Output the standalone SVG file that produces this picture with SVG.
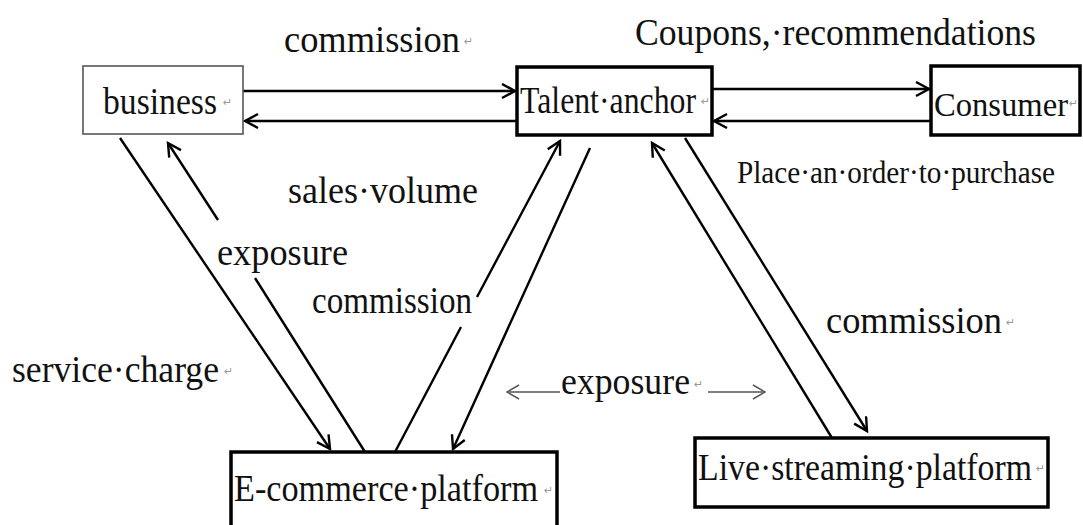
<svg xmlns="http://www.w3.org/2000/svg" width="1083" height="525" viewBox="0 0 1083 525">
  <defs>
    <style>
      .t { font-family: "Times New Roman", "Liberation Serif", Tinos, "DejaVu Serif", serif; font-size: 37px; fill: #111; }
      .s { font-size: 31px; }
      .pm { font-family: "DejaVu Sans", sans-serif; font-size: 11px; fill: #999; }
      .box { fill: #fff; stroke: #000; stroke-width: 3.5; }
      .thin { fill: #fff; stroke: #555; stroke-width: 1.6; }
      .edge { fill: none; stroke: #000; stroke-width: 2.4; marker-end: url(#arrow); }
      .grey { fill: none; stroke: #555; stroke-width: 1.5; marker-end: url(#arrowGrey); }
    </style>
    <marker id="arrow" markerUnits="userSpaceOnUse" markerWidth="20" markerHeight="20" refX="14" refY="8" orient="auto">
      <path d="M1,1 L14,8 L1,15" fill="none" stroke="#000" stroke-width="2.4"/>
    </marker>
    <marker id="arrowGrey" markerUnits="userSpaceOnUse" markerWidth="20" markerHeight="20" refX="13" refY="8" orient="auto">
      <path d="M1,1 L13,8 L1,15" fill="none" stroke="#555" stroke-width="1.5"/>
    </marker>
  </defs>

  <rect width="1083" height="525" fill="#fff"/>

  <!-- connectors -->
  <g id="connectors">
    <path class="edge" d="M243,91 L515,91"/>
    <path class="edge" d="M517,121 L245,121"/>
    <path class="edge" d="M712,89 L929,89"/>
    <path class="edge" d="M931,121 L714,121"/>
    <path class="edge" d="M120,138 L330,449"/>
    <path class="edge" d="M365,452 L255,278 M218,220 L168,143"/>
    <path class="edge" d="M395,452 L461,327 M477,297 L560,141"/>
    <path class="edge" d="M590,148 L453,449"/>
    <path class="edge" d="M832,438 L652,143"/>
    <path class="edge" d="M685,138 L867,431"/>
    <path class="grey" d="M560,392 L507,392"/>
    <path class="grey" d="M708,392 L765,392"/>
  </g>

  <!-- nodes -->
  <g id="node-business">
    <rect class="thin" x="83" y="66" width="160" height="68"/>
    <text class="t" x="103" y="114" textLength="114" lengthAdjust="spacingAndGlyphs">business</text>
    <text class="pm" x="223" y="106">↵</text>
  </g>
  <g id="node-talent">
    <rect class="box" x="517" y="67" width="195" height="68"/>
    <text class="t" x="520" y="113" textLength="176" lengthAdjust="spacingAndGlyphs">Talent·anchor</text>
    <text class="pm" x="701" y="105">↵</text>
  </g>
  <g id="node-consumer">
    <rect class="box" x="931" y="66" width="149" height="69"/>
    <text class="t" x="934" y="116" textLength="134" lengthAdjust="spacingAndGlyphs" style="font-size:34px">Consumer</text>
    <text class="pm" x="1069" y="107">↵</text>
  </g>
  <g id="node-ecommerce">
    <rect class="box" x="231" y="452" width="326" height="85"/>
    <text class="t" x="234" y="501" textLength="304" lengthAdjust="spacingAndGlyphs">E-commerce·platform</text>
    <text class="pm" x="544" y="494">↵</text>
  </g>
  <g id="node-live">
    <rect class="box" x="695" y="438" width="353" height="69"/>
    <text class="t" x="698" y="480" textLength="334" lengthAdjust="spacingAndGlyphs">Live·streaming·platform</text>
    <text class="pm" x="1036" y="472">↵</text>
  </g>

  <!-- connector labels -->
  <g id="labels">
    <text class="t" x="284" y="52" textLength="176" lengthAdjust="spacingAndGlyphs">commission</text>
    <text class="pm" x="464" y="45">↵</text>
    <text class="t" x="635" y="45" textLength="401" lengthAdjust="spacingAndGlyphs">Coupons,·recommendations</text>
    <text class="t" x="288" y="203" textLength="190" lengthAdjust="spacingAndGlyphs">sales·volume</text>
    <text class="t s" x="737" y="183" textLength="318" lengthAdjust="spacingAndGlyphs">Place·an·order·to·purchase</text>
    <text class="t" x="217" y="265" textLength="131" lengthAdjust="spacingAndGlyphs">exposure</text>
    <text class="t" x="312" y="313" textLength="160" lengthAdjust="spacingAndGlyphs">commission</text>
    <text class="t" x="12" y="382" textLength="207" lengthAdjust="spacingAndGlyphs">service·charge</text>
    <text class="pm" x="224" y="375">↵</text>
    <text class="t" x="561" y="394" textLength="129" lengthAdjust="spacingAndGlyphs">exposure</text>
    <text class="pm" x="694" y="388">↵</text>
    <text class="t" x="826" y="333" textLength="176" lengthAdjust="spacingAndGlyphs">commission</text>
    <text class="pm" x="1006" y="326">↵</text>
  </g>
</svg>
